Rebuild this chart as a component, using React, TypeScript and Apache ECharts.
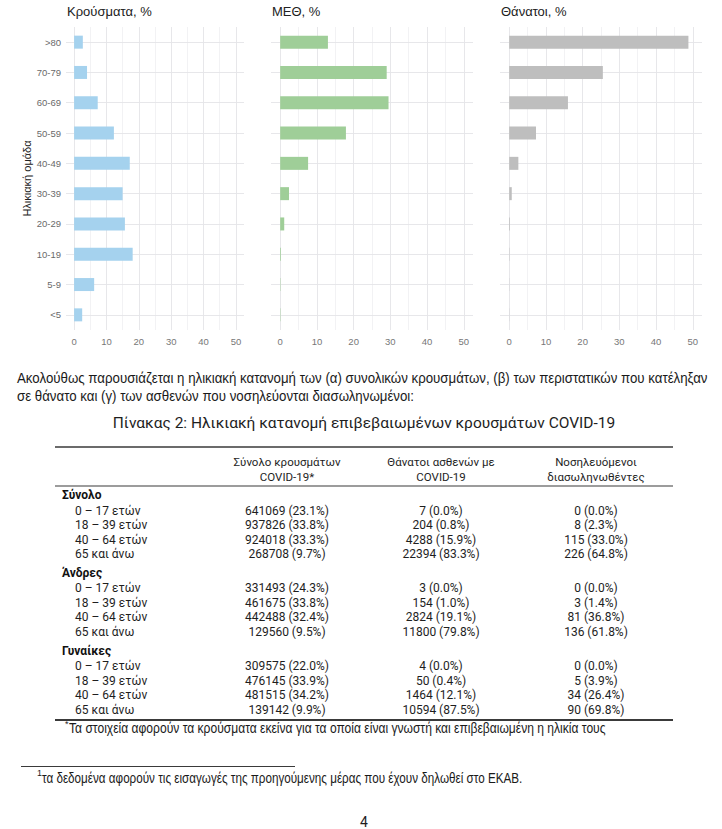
import React, { useEffect, useRef } from "react";
import * as echarts from "echarts";

const ageGroups = ["<5", "5-9", "10-19", "20-29", "30-39", "40-49", "50-59", "60-69", "70-79", ">80"];
const casesPct = [2.5, 6.2, 18.1, 15.7, 15.0, 17.2, 12.3, 7.3, 4.0, 2.7];
const icuPct = [0.1, 0.1, 0.2, 1.1, 2.4, 7.6, 17.9, 29.5, 29.0, 13.0];
const deathsPct = [0.05, 0.05, 0.1, 0.2, 0.7, 2.5, 7.3, 16.0, 25.5, 48.8];
const panelTitles = ["Κρούσματα, %", "ΜΕΘ, %", "Θάνατοι, %"];
const xTickLabels = [0, 10, 20, 30, 40, 50];

const tableGroups = ["Σύνολο", "Άνδρες", "Γυναίκες"];
const tableAges = ["0 – 17 ετών", "18 – 39 ετών", "40 – 64 ετών", "65 και άνω"];
const caseCounts = [641069, 937826, 924018, 268708, 331493, 461675, 442488, 129560, 309575, 476145, 481515, 139142];
const caseShares = [23.1, 33.8, 33.3, 9.7, 24.3, 33.8, 32.4, 9.5, 22.0, 33.9, 34.2, 9.9];
const deathCounts = [7, 204, 4288, 22394, 3, 154, 2824, 11800, 4, 50, 1464, 10594];
const deathShares = [0.0, 0.8, 15.9, 83.3, 0.0, 1.0, 19.1, 79.8, 0.0, 0.4, 12.1, 87.5];
const intubCounts = [0, 8, 115, 226, 0, 3, 81, 136, 0, 5, 34, 90];
const intubShares = [0.0, 2.3, 33.0, 64.8, 0.0, 1.4, 36.8, 61.8, 0.0, 3.9, 26.4, 69.8];
const headerCol1 = ["Σύνολο κρουσμάτων", "COVID-19*"];
const headerCol2 = ["Θάνατοι ασθενών με", "COVID-19"];
const headerCol3 = ["Νοσηλευόμενοι", "διασωληνωθέντες"];

const paragraphLines = [
  "Ακολούθως παρουσιάζεται η ηλικιακή κατανομή των (α) συνολικών κρουσμάτων, (β) των περιστατικών που κατέληξαν",
  "σε θάνατο και (γ) των ασθενών που νοσηλεύονται διασωληνωμένοι:",
];
const tableTitle = "Πίνακας 2: Ηλικιακή κατανομή επιβεβαιωμένων κρουσμάτων COVID-19";
const footnoteStar = "Τα στοιχεία αφορούν τα κρούσματα εκείνα για τα οποία είναι γνωστή και επιβεβαιωμένη η ηλικία τους";
const footnoteOne = "τα δεδομένα αφορούν τις εισαγωγές της προηγούμενης μέρας που έχουν δηλωθεί στο ΕΚΑΒ.";
const pageNumber = "4";

const SANS = '"Liberation Sans", Arial, sans-serif';
const TABLE = 'Roboto, "Noto Sans", sans-serif';

function measure(text: string, font: string): number {
  const c = document.createElement("canvas");
  const ctx = c.getContext("2d");
  if (!ctx) return text.length * 6;
  ctx.font = font;
  return ctx.measureText(text).width;
}

export default function App() {
  const ref = useRef<HTMLDivElement>(null);
  useEffect(() => {
    if (!ref.current) return;
    const chart = echarts.init(ref.current, null, { renderer: "svg" });
    const seriesData = [casesPct, icuPct, deathsPct];
    const colors = ["#A5D2EE", "#9FCE98", "#BEBEBE"];
    const grids = [
      { left: 66, top: 27, width: 178, height: 303 },
      { left: 271, top: 27, width: 202, height: 303 },
      { left: 500, top: 27, width: 202, height: 303 },
    ];
    const major = "#E4E4E8";
    const minor = "#F1F1F3";
    const splitColors = ["rgba(0,0,0,0)"];
    for (let i = 1; i <= 11; i++) splitColors.push(i % 2 === 1 ? major : minor);
    splitColors.push("rgba(0,0,0,0)");

    const graphic: any[] = [];
    const txt = (
      text: string,
      x: number,
      y: number,
      font: string,
      align = "left",
      fill = "#1e1e1e",
      scaleX = 1
    ) =>
      graphic.push({
        type: "text",
        x,
        y,
        scaleX,
        silent: true,
        style: { text, font, fill, align, verticalAlign: "middle" },
      });
    const line = (x1: number, y1: number, x2: number, y2: number, w: number) =>
      graphic.push({
        type: "line",
        silent: true,
        shape: { x1, y1, x2, y2 },
        style: { stroke: "#3a3a3a", lineWidth: w },
      });

    const paraFont = `15px ${SANS}`;
    const paraScale = 691 / measure(paragraphLines[0], paraFont);
    txt(paragraphLines[0], 17, 378, paraFont, "left", "#1a1a1a", paraScale);
    txt(paragraphLines[1], 17, 396, paraFont, "left", "#1a1a1a", paraScale);
    txt(tableTitle, 364, 423, `15.5px ${TABLE}`, "center");

    line(55, 447, 673, 447, 1.4);
    const colX = [287, 441, 596];
    [headerCol1, headerCol2, headerCol3].forEach((h, c) => {
      txt(h[0], colX[c], 462, `11.5px ${TABLE}`, "center");
      txt(h[1], colX[c], 477, `11.5px ${TABLE}`, "center");
    });
    line(55, 486, 673, 486, 1.1);

    const fmt = (n: number, s: number) => `${n} (${s.toFixed(1)}%)`;
    tableGroups.forEach((g, gi) => {
      const yg = 495 + gi * 77.8;
      txt(g, 62, yg, `bold 12px ${TABLE}`, "left", "#111");
      tableAges.forEach((a, ai) => {
        const y = yg + 15.5 + ai * 14.5;
        const k = gi * 4 + ai;
        txt(a, 75, y, `12px ${TABLE}`);
        txt(fmt(caseCounts[k], caseShares[k]), colX[0], y, `12px ${TABLE}`, "center");
        txt(fmt(deathCounts[k], deathShares[k]), colX[1], y, `12px ${TABLE}`, "center");
        txt(fmt(intubCounts[k], intubShares[k]), colX[2], y, `12px ${TABLE}`, "center");
      });
    });
    line(55, 720, 673, 720, 2);
    const footFont = `14px ${SANS}`;
    txt("*", 65, 724, `9px ${SANS}`);
    txt(footnoteStar, 69, 728, footFont, "left", "#1a1a1a", 537 / measure(footnoteStar, footFont));
    line(21, 766.5, 295, 766.5, 1);
    txt("1", 37, 773, `9px ${SANS}`);
    txt(footnoteOne, 42, 778, footFont, "left", "#1a1a1a", 481 / measure(footnoteOne, footFont));
    txt(pageNumber, 364, 822, `14px ${TABLE}`, "center");

    const option: any = {
      animation: false,
      backgroundColor: "#ffffff",
      title: panelTitles.map((t, i) => ({
        text: t,
        left: grids[i].left + 1,
        top: 5,
        padding: 0,
        textStyle: { fontSize: 13, fontWeight: "normal", color: "#222", fontFamily: SANS },
      })),
      grid: grids,
      xAxis: grids.map((_, i) => ({
        type: "value",
        gridIndex: i,
        min: -2.5,
        max: 52.5,
        splitNumber: 11,
        minInterval: 5,
        maxInterval: 5,
        axisLine: { show: false },
        axisTick: { show: false },
        axisLabel: {
          color: "#777",
          fontSize: 9.5,
          margin: 6,
          fontFamily: SANS,
          formatter: (v: number) => (xTickLabels.some((t) => Math.abs(t - v) < 1e-6) ? String(Math.round(v)) : ""),
        },
        splitLine: { show: true, lineStyle: { color: splitColors, width: 0.9 } },
      })),
      yAxis: grids.map((_, i) => ({
        type: "category",
        gridIndex: i,
        data: ageGroups,
        axisLine: { show: false },
        axisTick: { show: false },
        splitLine: { show: false },
        axisLabel: {
          show: i === 0,
          color: "#6a6a6a",
          fontSize: 9.5,
          margin: 5,
          fontFamily: SANS,
        },
        name: i === 0 ? "Ηλικιακή ομάδα" : "",
        nameLocation: "middle",
        nameGap: 33,
        nameTextStyle: { fontSize: 11, color: "#222", fontFamily: SANS },
      })),
      series: seriesData.map((d, i) => ({
        type: "bar",
        xAxisIndex: i,
        yAxisIndex: i,
        data: d,
        barWidth: 13,
        z: 2,
        itemStyle: { color: colors[i] },
        markLine: {
          silent: true,
          z: 1,
          symbol: ["none", "none"],
          label: { show: false },
          lineStyle: { color: major, width: 0.9, type: "solid" },
          emphasis: { disabled: true },
          data: ageGroups.map((_, k) => ({ yAxis: k })),
        },
      })),
      graphic,
    };
    chart.setOption(option);
    return () => chart.dispose();
  }, []);
  return (
    <div
      ref={ref}
      style={{ position: "absolute", left: 0, top: 0, width: 722, height: 829, background: "#fff" }}
    />
  );
}
